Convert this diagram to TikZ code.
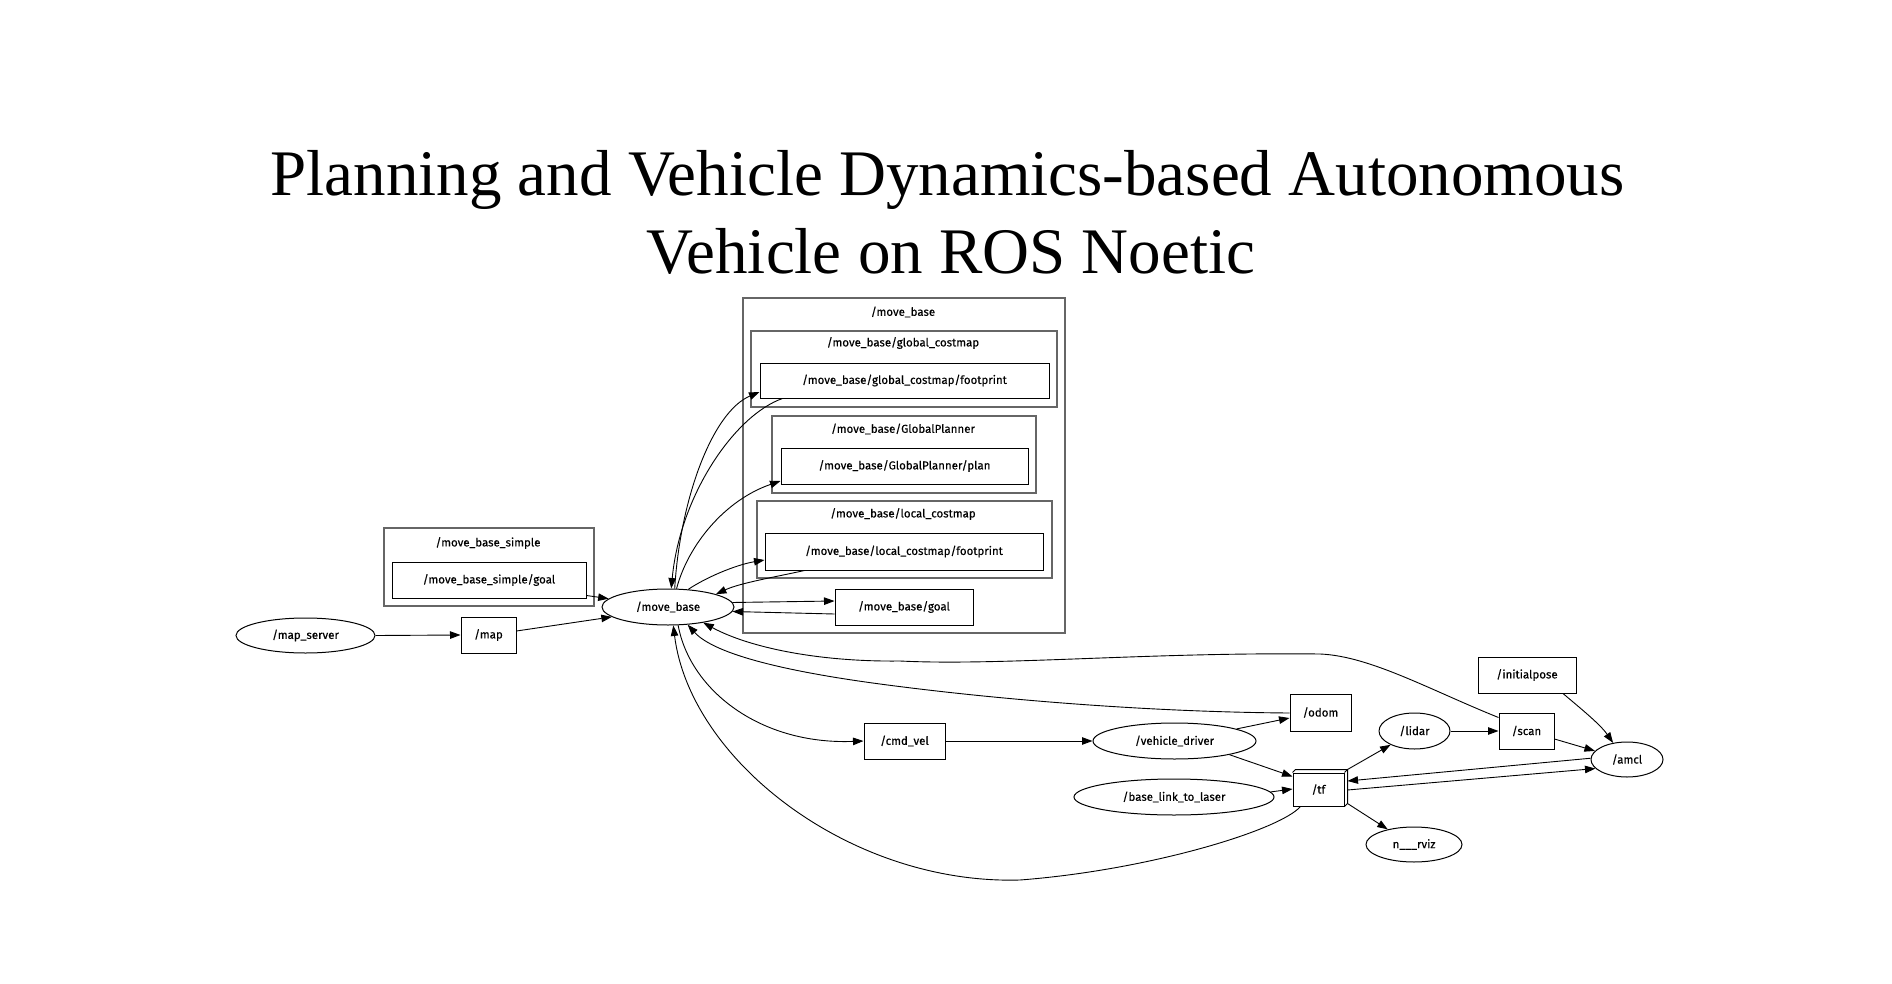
\documentclass[tikz,border=0pt]{standalone}
\usepackage{fontspec}
\setmainfont{Liberation Serif}
\newfontfamily\lblfont[FakeBold=0.35]{Fira Sans}
\usetikzlibrary{arrows.meta,shapes.geometric,calc}
\begin{document}
\begin{tikzpicture}[x=1pt,y=-1pt,
  lbl/.style={font=\lblfont\fontsize{11.5}{13}\selectfont, inner sep=0pt},
  topic/.style={lbl, draw, rectangle, line width=1pt},
  nodeell/.style={lbl, draw, ellipse, line width=1pt},
  cluster/.style={draw=black!60, line width=1.4pt},
  arr/.style={-{Triangle[length=10.5pt,width=7.5pt]}, line width=0.9pt},
  titlefont/.style={font=\fontsize{65}{77}\selectfont, inner sep=0pt, anchor=base},
]
\useasboundingbox (0,0) rectangle (1892,984);

% title
\node[titlefont] (title1) at (947.5,196) {Planning and Vehicle Dynamics-based Autonomous};
\node[titlefont] (title2) at (951,273) {Vehicle on ROS Noetic};

% clusters
\draw[cluster] (743,298) rectangle (1065,633);
\node[lbl] (cmbl) at (903,312) {/move\_base};
\draw[cluster] (751,331) rectangle (1057,407);
\node[lbl] (cgcl) at (903,343) {/move\_base/global\_costmap};
\draw[cluster] (772,416) rectangle (1036,493);
\node[lbl] (cgpl) at (903,429) {/move\_base/GlobalPlanner};
\draw[cluster] (757,501) rectangle (1052,578);
\node[lbl] (clcl) at (903,514) {/move\_base/local\_costmap};
\draw[cluster] (384,528) rectangle (594,606);
\node[lbl] (cmsl) at (488,543) {/move\_base\_simple};

% nodes
\node[topic, minimum width=194pt, minimum height=36pt] (msgoal) at (489,580) {/move\_base\_simple/goal};
\node[nodeell, minimum width=139pt, minimum height=35pt] (ms) at (305.5,635.5) {/map\_server};
\node[topic, minimum width=55pt, minimum height=36pt] (map) at (488.5,635) {/map};
\node[nodeell, minimum width=132pt, minimum height=36pt] (mb) at (668,607) {/move\_base};
\node[topic, minimum width=289pt, minimum height=35pt] (gfp) at (904.5,380.5) {/move\_base/global\_costmap/footprint};
\node[topic, minimum width=247pt, minimum height=36pt] (plan) at (904.5,466) {/move\_base/GlobalPlanner/plan};
\node[topic, minimum width=278pt, minimum height=37pt] (lfp) at (904,551.5) {/move\_base/local\_costmap/footprint};
\node[topic, minimum width=138pt, minimum height=36pt] (mbgoal) at (904,607) {/move\_base/goal};
\node[topic, minimum width=81pt, minimum height=36pt] (cmd) at (904.5,741) {/cmd\_vel};
\node[nodeell, minimum width=163pt, minimum height=36pt] (vd) at (1174.5,741) {/vehicle\_driver};
\node[topic, minimum width=61pt, minimum height=37pt] (odom) at (1320.5,712.5) {/odom};
\node[nodeell, minimum width=200pt, minimum height=36pt] (bl) at (1174,797) {/base\_link\_to\_laser};
\node[topic, minimum width=51pt, minimum height=33pt] (tf) at (1318.5,789.5) {/tf};
\draw[line width=1pt] (tf.north west) -- ++(3,-3) -- ($(tf.north east)+(3,-3)$) -- ($(tf.south east)+(3,-3)$) -- (tf.south east);
\draw[line width=1pt] (tf.north east) -- ++(3,-3);
\node[nodeell, minimum width=71pt, minimum height=36pt] (lidar) at (1414.5,731) {/lidar};
\node[nodeell, minimum width=96pt, minimum height=35pt] (rviz) at (1414,844.5) {n\_\_\_rviz};
\node[topic, minimum width=98pt, minimum height=36pt] (init) at (1527,675) {/initialpose};
\node[topic, minimum width=55pt, minimum height=36pt] (scan) at (1526.5,731) {/scan};
\node[nodeell, minimum width=72pt, minimum height=35pt] (amcl) at (1627,759.5) {/amcl};

% edges
\draw[arr] (ms.east) -- (map.west);
\draw[arr] ($(map.east)+(0,-4)$) -- (mb.190);
\draw[arr] ($(msgoal.south east)+(0,-3)$) -- (mb.172);
\draw[arr] (mb.70) .. controls (680,500) and (712,412) .. ($(gfp.west)+(0,11.5)$);
\draw[arr] ($(gfp.south west)+(23,0)$) .. controls (735,415) and (680,495) .. (mb.80);
\draw[arr] (mb.65) .. controls (688,545) and (725,500) .. ($(plan.west)+(0,15)$);
\draw[arr] (mb.41) .. controls (705,578) and (735,565) .. ($(lfp.west)+(0,8.5)$);
\draw[arr] ($(lfp.south west)+(40,0)$) .. controls (775,577) and (740,583) .. (mb.15);
\draw[arr] (mb.4) -- ($(mbgoal.west)+(0,-6)$);
\draw[arr] ($(mbgoal.west)+(0,7)$) -- (mb.356);
\draw[arr] ($(scan.north west)+(0,5)$) .. controls (1430,690) and (1370,656) .. (1320,654)
   .. controls (1150,652) and (1000,666) .. (900,661)
   .. controls (820,662) and (750,648) .. (mb.336);
\draw[arr] ($(odom.west)+(0,0.5)$) .. controls (1150,712) and (1000,700) .. (880,684)
   .. controls (790,672) and (715,655) .. (mb.318);
\draw[arr] (mb.299) .. controls (690,690) and (760,745) .. (cmd.west);
\draw[arr] ($(tf.south west)+(8,0)$) .. controls (1280,830) and (1150,870) .. (1020,880)
   .. controls (850,885) and (690,760) .. (mb.286);
\draw[arr] (cmd.east) -- (vd.west);
\draw[arr] (vd.11) -- ($(odom.west)+(0,5.5)$);
\draw[arr] (vd.346) -- ($(tf.west)+(0,-13)$);
\draw[arr] (bl.3) -- ($(tf.west)+(0,-0.5)$);
\draw[arr] ($(tf.north east)+(3,-3)$) -- (lidar.210);
\draw[arr] ($(tf.south east)+(3,-3)$) -- (rviz.150);
\draw[arr] (amcl.178) -- ($(tf.east)+(3,-8.5)$);
\draw[arr] ($(tf.east)+(3,0.5)$) -- (amcl.196);
\draw[arr] (lidar.east) -- (scan.west);
\draw[arr] ($(scan.east)+(0,8)$) -- (amcl.165);
\draw[arr] ($(init.south)+(36,0)$) .. controls (1580,708) and (1600,724) .. (amcl.130);
\end{tikzpicture}
\end{document}
